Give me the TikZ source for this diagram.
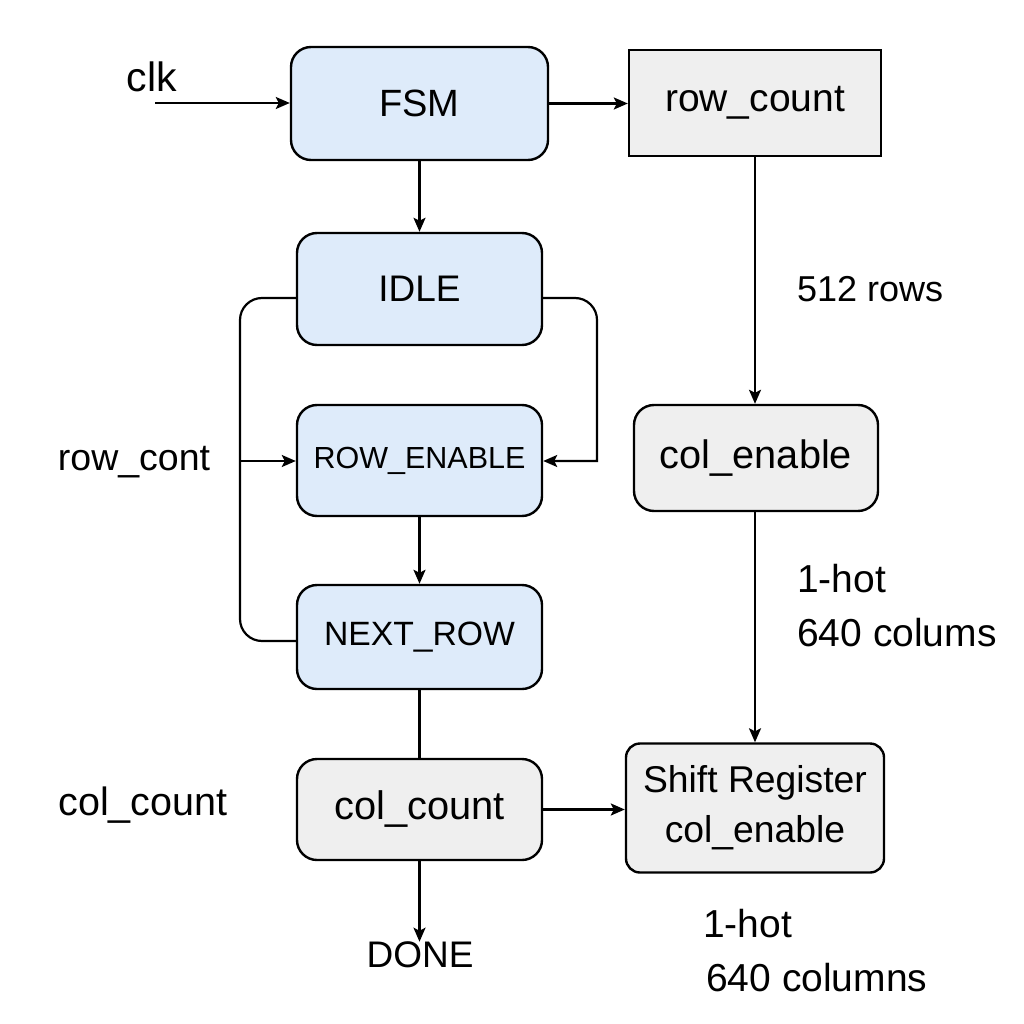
\documentclass[tikz,border=0pt]{standalone}
\usepackage{fontspec}
\setmainfont{Liberation Sans}
\usetikzlibrary{arrows.meta}
\definecolor{bluefill}{HTML}{DEEBFA}
\definecolor{grayfill}{HTML}{EFEFEF}
\tikzset{
  box/.style={draw=black, line width=2.4pt, rounded corners=20pt, align=center, inner sep=0pt},
  bluebox/.style={box, fill=bluefill},
  graybox/.style={box, fill=grayfill},
  conn/.style={line width=2.2pt, -{Stealth[length=14pt,width=12pt,inset=3pt]}},
  plain/.style={line width=2.2pt},
  lbl/.style={inner sep=0pt, align=left},
  big/.style={font=\fontsize{39}{42}\selectfont},
}
\begin{document}
\begin{tikzpicture}[x=1pt,y=-1pt]
\useasboundingbox (0,0) rectangle (1024,1024);
\fill[white] (0,0) rectangle (1024,1024);

\node[bluebox, font=\fontsize{38}{42}\selectfont, minimum width=257pt, minimum height=113pt] (fsm) at (419.5,103.5) {FSM};
\node[graybox, big, rounded corners=0pt, minimum width=252pt, minimum height=106pt] (rowc) at (755,103) {row\_count};
\node[bluebox, font=\fontsize{37}{40}\selectfont, minimum width=245pt, minimum height=112pt] (idle) at (419.5,289) {IDLE};
\node[bluebox, font=\fontsize{30.5}{36}\selectfont, minimum width=245pt, minimum height=111pt] (rowen) at (419.5,460.5) {ROW\_ENABLE};
\node[bluebox, font=\fontsize{33.7}{38}\selectfont, minimum width=245pt, minimum height=104pt] (nextr) at (419.5,637) {NEXT\_ROW};
\node[graybox, font=\fontsize{39.8}{42}\selectfont, minimum width=245pt, minimum height=101pt] (colc) at (419.5,809.5) {col\_count};
\node[graybox, font=\fontsize{39.7}{42}\selectfont, minimum width=244pt, minimum height=106pt] (colen) at (756,458) {col\_enable};
\node[graybox, rounded corners=14pt, font=\fontsize{37.3}{50}\selectfont, minimum width=258pt, minimum height=129pt] (shift) at (755,808) {Shift Register\\col\_enable};

% labels
\node[lbl, font=\fontsize{41}{44}\selectfont] (clk) at (152,77) {clk};
\coordinate (clkin) at (155,103);
\node[lbl, font=\fontsize{36}{40}\selectfont, anchor=west] (rows) at (797,289) {512 rows};
\node[lbl, font=\fontsize{37.5}{40}\selectfont] (rowcont) at (134,462) {row\_cont};
\node[lbl, font=\fontsize{39.5}{42}\selectfont] (colcountl) at (143,805) {col\_count};
\node[lbl, font=\fontsize{39}{54}\selectfont, anchor=west] (hot1) at (797,606) {1-hot\\640 colums};
\node[lbl, font=\fontsize{39}{54}\selectfont, anchor=west] (hot2) at (703,951) {1-hot\\\hspace*{3pt}640 columns};
\node[lbl, font=\fontsize{37}{40}\selectfont] (done) at (420,955) {DONE};

% connectors
\draw[conn] (clkin) -- (fsm.west |- clkin);
\draw[conn] (fsm.east) -- (rowc.west |- fsm.east);
\draw[conn] (fsm.south) -- (idle.north);
\draw[conn] (rowen.south) -- (nextr.north);
\draw[plain] (nextr.south) -- (colc.north);
\draw[conn] (colc.south) -- (colc.south |- done.north);
\draw[conn] (colc.east) -- (shift.west |- colc.east);
\draw[conn] (rowc.south) -- (rowc.south |- colen.north);
\draw[conn] (rowc.south |- colen.south) -- (rowc.south |- shift.north);

\coordinate (ltop) at (240,298);
\coordinate (lbot) at (240,641);
\coordinate (lmid) at (240,461);
\coordinate (rtop) at (597,298);
\coordinate (rbot) at (597,461);
\draw[plain, rounded corners=22pt] ([yshift=-4pt]nextr.west) -- (lbot) -- (ltop) -- ([yshift=-9pt]idle.west);
\draw[conn] (lmid) -- (rowen.west |- lmid);
\draw[conn] ([yshift=-9pt]idle.east) [rounded corners=22pt] -- (rtop) [sharp corners] -- (rbot) -- (rowen.east |- rbot);
\end{tikzpicture}
\end{document}
